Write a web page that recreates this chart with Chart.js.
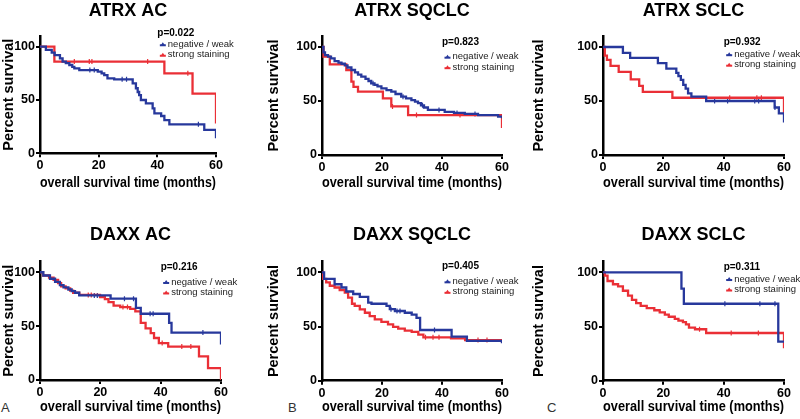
<!DOCTYPE html>
<html>
<head>
<meta charset="utf-8">
<title>ATRX / DAXX survival</title>
<script src="https://cdn.jsdelivr.net/npm/chart.js@4.4.1/dist/chart.umd.min.js"></script>
<style>
  body { margin: 0; width: 800px; height: 419px; background: #fff; overflow: hidden; position: relative; }
  canvas { position: absolute; }
  .tag { position: absolute; font: 13px 'Liberation Sans', Arial, sans-serif; color: #333; line-height: 15px; }
</style>
</head>
<body>
<div class="tag" style="left:1px;top:400px">A</div>
<div class="tag" style="left:288px;top:400px">B</div>
<div class="tag" style="left:547px;top:400px">C</div>
<script>
// 面板标题、p值、图例
const panelTitles = ['ATRX AC', 'ATRX SQCLC', 'ATRX SCLC', 'DAXX AC', 'DAXX SQCLC', 'DAXX SCLC'];
const pValues = ['p=0.022', 'p=0.823', 'p=0.932', 'p=0.216', 'p=0.405', 'p=0.311'];
const seriesLabels = ['negative / weak', 'strong staining'];
const xTicks = [0, 20, 40, 60];
const yTicks = [0, 50, 100];

// 生存曲线 [月, 生存率%]
const atrxAcNeg = [[0, 100], [2, 97], [4, 94.5], [5, 92], [6.8, 89], [7.7, 86], [8.8, 84.5], [10, 82.8], [11, 81], [11.7, 79.7], [13.4, 78], [19.7, 76.5], [21, 75], [21.9, 73.4], [23, 70.3], [25.3, 69.4], [31.6, 65.6], [32.7, 61], [33.3, 57.5], [33.8, 54.5], [34.4, 50], [36.1, 46.9], [38.4, 42.2], [39, 37.5], [41.3, 35], [42.4, 31.2], [44.1, 27.2], [56, 21.9], [60, 14]];
const atrxAcStrong = [[0, 100], [4.9, 86], [42.4, 75], [52, 56], [60, 28]];
const atrxAcNegCensor = [17, 18.5, 28, 29.5, 54];
const atrxAcStrongCensor = [11.7, 16.8, 17.7, 36.7, 50.4];

const atrxSqNeg = [[0, 100], [0.5, 95], [1, 92.5], [2, 91], [3, 89.5], [4.2, 87], [5.5, 85.5], [6.5, 84.5], [7.6, 83], [8.5, 81], [9.8, 78.7], [11, 76.5], [12, 74.5], [13.1, 72.5], [14.5, 70.5], [15.5, 68.5], [16.4, 66.4], [17.5, 65], [18.5, 63.5], [19.8, 61.7], [21.5, 60], [23.1, 58.6], [24.5, 56.5], [26.4, 54], [28, 52.5], [29.8, 50.9], [31, 49.5], [32, 48], [33, 46], [34, 44], [35.3, 41.7], [40.9, 40], [44, 39], [47.6, 38], [52, 37], [58.7, 35.5], [60, 34]];
const atrxSqStrong = [[0, 100], [0.5, 91], [2.6, 84], [8.1, 78.5], [9.8, 68], [10.5, 63], [12, 58.6], [20.3, 52.5], [23.1, 45], [28.7, 37], [60, 25]];
const atrxSqNegCensor = [17, 27, 33.5, 39, 45, 51];
const atrxSqStrongCensor = [23.5, 31.5, 46];

const atrxScNeg = [[0, 100], [6.6, 94.5], [9, 90], [18.2, 85], [21, 80], [24.3, 76], [25, 73], [25.8, 69.5], [26.6, 65], [27.4, 61.5], [28.2, 57], [29.3, 54], [34.2, 50], [56.9, 44], [58.3, 38.6], [60, 30]];
const atrxScStrong = [[0, 100], [0.6, 92], [1.3, 88], [2.5, 82.5], [5.2, 77], [9.2, 70], [12, 64], [13.2, 58.5], [23, 53], [60, 38]];
const atrxScNegCensor = [37, 41.3, 50.3, 51.6, 57];
const atrxScStrongCensor = [42, 51, 52.5];

const daxxAcNeg = [[0, 100], [1.1, 97], [3.3, 94], [5, 91], [6.6, 88], [7.8, 86], [9.4, 84], [10.5, 82.5], [11.6, 81], [13, 78.5], [23.4, 75.5], [31.8, 67], [33.4, 61.5], [42.8, 53], [43.6, 44], [60, 33]];
const daxxAcStrong = [[0, 100], [1, 97], [3, 95], [4.5, 93], [6, 90], [7, 87], [8.5, 85], [10, 83], [11, 81], [13, 79], [19.9, 77], [21.5, 75], [22.7, 72.3], [24.4, 69], [26.6, 67.7], [29.9, 66], [31.6, 63.7], [33.4, 53], [35, 48], [36.7, 43.5], [37.8, 39], [39.4, 34.3], [42.5, 31], [52.7, 22], [55.7, 11], [60, 0]];
const daxxAcNegCensor = [18, 19, 28, 31, 36.5, 37.5, 54];
const daxxAcStrongCensor = [16, 17, 27.5, 29, 40.5, 47, 50];

const daxxSqNeg = [[0, 100], [0.7, 94], [4.2, 89], [6.5, 86], [8.1, 82.3], [10.4, 80], [12.6, 77.3], [15.4, 72], [16.5, 71], [21.5, 69], [22.6, 66], [24.3, 64.3], [27.6, 62.7], [29.9, 61], [31.5, 58], [32.7, 46.8], [43.2, 40.7], [48.3, 36.7], [60, 34.6]];
const daxxSqStrong = [[0, 100], [0.3, 94], [1.4, 90.7], [2.6, 87.6], [4.2, 86], [5.9, 83.5], [7.6, 81.4], [8.7, 76.7], [10, 71], [10.9, 69], [12.6, 65.8], [14.3, 62.7], [15.9, 59.6], [17.6, 56.5], [19.8, 54.3], [22, 51.9], [23.7, 49.7], [25.4, 48], [27.6, 46.3], [29.9, 45], [32.1, 42.5], [33.8, 40], [43, 39], [47.7, 37.5], [60, 35]];
const daxxSqNegCensor = [23, 25, 26, 37.5];
const daxxSqStrongCensor = [34.5, 37, 39, 52, 55];

const daxxScNeg = [[0, 100], [26, 85], [26.8, 71], [58.1, 36], [60, 35]];
const daxxScStrong = [[0, 100], [0.6, 97], [1.5, 92], [3.3, 89], [5, 87], [6.6, 83], [8.3, 78.6], [9.6, 74.5], [11, 71.5], [12.5, 69], [14.5, 67], [17, 65], [18.8, 63], [20.5, 61], [21.8, 59], [23.8, 57], [25, 55.5], [26.5, 54], [27.5, 52], [28.5, 49], [30.5, 47.5], [34.2, 44], [60, 30]];
const daxxScNegCensor = [40.4, 52, 57];
const daxxScStrongCensor = [32, 42.5, 51.5];

const FONT = "'Liberation Sans', Arial, sans-serif";
const COLORS = ['#27389c', '#ea2f36'];

// 面板布局：画布位置与绘图区边界（像素）
const panels = [
  { neg: atrxAcNeg, strong: atrxAcStrong, negC: atrxAcNegCensor, strongC: atrxAcStrongCensor,
    box: { x: 0, y: 0, w: 265, h: 200 }, area: { left: 40, right: 216, top: 36, bottom: 153.3 }, legendDy: -13.7, itemDy: 11.3 },
  { neg: atrxSqNeg, strong: atrxSqStrong, negC: atrxSqNegCensor, strongC: atrxSqStrongCensor,
    box: { x: 265, y: 0, w: 265, h: 200 }, area: { left: 322, right: 502, top: 36.2, bottom: 155 }, legendDy: -4.3, itemDy: 14 },
  { neg: atrxScNeg, strong: atrxScStrong, negC: atrxScNegCensor, strongC: atrxScStrongCensor,
    box: { x: 530, y: 0, w: 270, h: 200 }, area: { left: 603, right: 784, top: 36.2, bottom: 155 }, legendDy: -4.3, itemDy: 11.5 },
  { neg: daxxAcNeg, strong: daxxAcStrong, negC: daxxAcNegCensor, strongC: daxxAcStrongCensor,
    box: { x: 0, y: 224, w: 265, h: 195 }, area: { left: 40, right: 221, top: 261.5, bottom: 380 }, legendDy: -5.3, itemDy: 15 },
  { neg: daxxSqNeg, strong: daxxSqStrong, negC: daxxSqNegCensor, strongC: daxxSqStrongCensor,
    box: { x: 265, y: 224, w: 265, h: 195 }, area: { left: 322, right: 502, top: 261.5, bottom: 380.7 }, legendDy: -6.5, itemDy: 15.5 },
  { neg: daxxScNeg, strong: daxxScStrong, negC: daxxScNegCensor, strongC: daxxScStrongCensor,
    box: { x: 530, y: 224, w: 270, h: 195 }, area: { left: 603, right: 784, top: 261.5, bottom: 380.7 }, legendDy: -5.3, itemDy: 12 },
];

// 删失点的y值取自阶梯曲线
function survivalAt(curve, t) {
  let s = curve[0][1];
  curve.forEach(([x, y]) => { if (x <= t) s = y; });
  return s;
}

// p值与图例绘制在绘图区右上角
const kmLegend = {
  id: 'kmLegend',
  afterDatasetsDraw(chart, args, opts) {
    const { ctx, scales } = chart;
    const left = scales.x.getPixelForValue(40);
    const top = scales.y.getPixelForValue(100) + opts.dy;
    ctx.save();
    ctx.textBaseline = 'middle';
    ctx.textAlign = 'left';
    ctx.fillStyle = '#000';
    ctx.font = 'bold 10px ' + FONT;
    ctx.fillText(opts.text, left, top);
    ctx.font = '9.5px ' + FONT;
    seriesLabels.forEach((label, i) => {
      const yy = top + opts.itemDy + i * 10.5;
      ctx.strokeStyle = COLORS[i];
      ctx.fillStyle = COLORS[i];
      ctx.lineWidth = 2;
      ctx.beginPath();
      ctx.moveTo(left + 2.5, yy + 1);
      ctx.lineTo(left + 8.5, yy + 1);
      ctx.stroke();
      ctx.beginPath();
      ctx.moveTo(left + 3.5, yy + 1);
      ctx.lineTo(left + 5.5, yy - 2);
      ctx.lineTo(left + 7.5, yy + 1);
      ctx.closePath();
      ctx.fill();
      ctx.fillStyle = '#222';
      ctx.fillText(label, left + 10.5, yy);
    });
    ctx.restore();
  }
};

function makeChart(p, i) {
  const canvas = document.createElement('canvas');
  canvas.width = p.box.w;
  canvas.height = p.box.h;
  canvas.style.left = p.box.x + 'px';
  canvas.style.top = p.box.y + 'px';
  document.body.appendChild(canvas);

  const titleSize = 18;
  const yWidth = p.area.left - p.box.x;
  const xHeight = p.box.y + p.box.h - p.area.bottom;
  const padRight = p.box.x + p.box.w - p.area.right;
  const titleBottom = p.area.top - p.box.y - titleSize * 1.2;
  const xTitleBottom = (p.box.y + p.box.h) - (i < 3 ? 182.7 : 407.3) - 8.4;

  const curves = [p.neg, p.strong];
  const censors = [p.negC, p.strongC];
  const datasets = [];
  curves.forEach((c, k) => {
    datasets.push({
      label: seriesLabels[k],
      data: c.map(([x, y]) => ({ x, y })),
      borderColor: COLORS[k],
      borderWidth: 2.3,
      stepped: true,
      pointRadius: 0,
      fill: false,
    });
  });
  censors.forEach((c, k) => {
    datasets.push({
      label: seriesLabels[k] + ' censored',
      data: c.map((t) => ({ x: t, y: survivalAt(curves[k], t) })),
      showLine: false,
      pointStyle: 'line',
      rotation: 90,
      pointRadius: 2.5,
      borderColor: COLORS[k],
      borderWidth: 1.2,
    });
  });

  new Chart(canvas, {
    type: 'line',
    data: { datasets },
    options: {
      responsive: false,
      animation: false,
      layout: { padding: { left: 0, right: padRight, top: 0, bottom: 0 } },
      plugins: {
        legend: { display: false },
        tooltip: { enabled: false },
        title: {
          display: true,
          text: panelTitles[i],
          fullSize: false,
          color: '#000',
          font: { family: FONT, size: titleSize, weight: 'bold', lineHeight: 1.2 },
          padding: { top: 0, bottom: titleBottom },
        },
        kmLegend: { text: pValues[i], dy: p.legendDy, itemDy: p.itemDy },
      },
      scales: {
        x: {
          type: 'linear',
          min: 0,
          max: 60,
          afterFit: (s) => { s.height = xHeight; },
          afterBuildTicks: (s) => { s.ticks = xTicks.map((v) => ({ value: v })); },
          border: { display: true, color: '#000', width: 2.5 },
          grid: { drawOnChartArea: false, drawTicks: true, tickLength: 4, color: '#000', lineWidth: 2 },
          ticks: { color: '#000', padding: 1, font: { family: FONT, size: 12.5, weight: 'bold' }, maxRotation: 0 },
          title: {
            display: true,
            text: 'overall survival time (months)',
            color: '#000',
            font: { family: FONT, size: 14, weight: 'bold', lineHeight: 1.2 },
            padding: { top: 0, bottom: xTitleBottom },
          },
        },
        y: {
          type: 'linear',
          min: 0,
          max: 110,
          afterFit: (s) => { s.width = yWidth; },
          afterBuildTicks: (s) => { s.ticks = yTicks.map((v) => ({ value: v })); },
          border: { display: true, color: '#000', width: 2.5 },
          grid: { drawOnChartArea: false, drawTicks: true, tickLength: 4, color: '#000', lineWidth: 2 },
          ticks: { color: '#000', padding: 1, font: { family: FONT, size: 12.5, weight: 'bold' } },
          title: {
            display: true,
            text: 'Percent survival',
            color: '#000',
            font: { family: FONT, size: 14.5, weight: 'bold', lineHeight: 1.2 },
            padding: { top: 0, bottom: 0 },
          },
        },
      },
    },
    plugins: [kmLegend],
  });
}

panels.forEach(makeChart);
</script>
</body>
</html>
